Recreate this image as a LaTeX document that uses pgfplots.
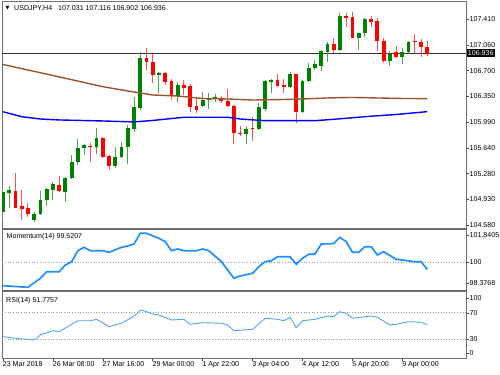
\documentclass[border=0pt]{standalone}
\usepackage{pgfplots}
\pgfplotsset{compat=1.18}
\usepackage{pgfplotstable}
\usepackage{fontspec}
\setmainfont{Liberation Sans}
\newfontfamily\symfont{DejaVu Sans}

\definecolor{cgreen}{RGB}{0,128,0}
\definecolor{cgreenw}{RGB}{80,165,80}
\definecolor{cred}{RGB}{255,0,0}
\definecolor{credw}{RGB}{255,80,80}
\definecolor{mabrown}{RGB}{160,82,45}
\definecolor{mablue}{RGB}{0,0,255}
\definecolor{momblue}{RGB}{30,144,255}
\definecolor{rsiblue}{RGB}{80,165,245}
\definecolor{framec}{RGB}{110,110,110}

% up (green) candles
\pgfplotstableread{
i O H L C
0 104.763 105.092 104.653 105.042
1 105.024 105.124 104.822 105.065
5 104.649 104.767 104.630 104.735
6 104.731 105.051 104.722 104.928
7 104.924 105.093 104.849 105.075
8 105.069 105.171 104.924 105.143
10 105.042 105.237 104.904 105.226
11 105.226 105.546 105.216 105.446
12 105.446 105.762 105.409 105.646
13 105.646 105.690 105.546 105.683
15 105.652 105.913 105.560 105.784
18 105.395 105.660 105.363 105.523
19 105.523 105.729 105.501 105.660
20 105.652 105.958 105.422 105.913
21 105.899 106.338 105.866 106.201
22 106.196 106.965 106.164 106.882
25 106.641 106.686 106.393 106.676
28 106.356 106.553 106.278 106.507
32 106.223 106.415 106.209 106.301
33 106.301 106.393 106.174 106.325
34 106.311 106.384 106.278 106.339
39 105.834 105.944 105.697 105.903
41 105.903 106.264 105.889 106.201
42 106.174 106.569 106.154 106.562
43 106.553 106.583 106.393 106.576
46 106.476 106.690 106.466 106.654
48 106.132 106.569 106.119 106.562
49 106.562 106.806 106.553 106.737
50 106.737 106.851 106.707 106.789
51 106.773 106.988 106.700 106.974
52 106.965 107.102 106.827 107.066
54 106.988 107.492 106.974 107.455
57 107.149 107.222 106.988 107.218
58 107.218 107.432 107.171 107.414
62 106.837 106.974 106.773 106.933
64 106.896 107.020 106.792 106.965
65 106.957 107.112 106.943 107.094
}\upc

% down (red) candles
\pgfplotstableread{
i O H L C
2 105.056 105.295 104.811 104.822
3 104.845 105.065 104.653 104.800
4 104.814 104.882 104.698 104.735
9 105.134 105.262 105.042 105.051
14 105.674 105.707 105.446 105.652
16 105.784 105.793 105.509 105.523
17 105.536 105.546 105.340 105.395
23 106.882 107.012 106.713 106.819
24 106.827 106.933 106.531 106.645
26 106.676 106.686 106.507 106.553
27 106.562 106.586 106.301 106.370
29 106.507 106.576 106.370 106.470
30 106.498 106.521 106.141 106.209
31 106.219 106.325 106.127 106.164
35 106.325 106.356 106.264 106.292
36 106.292 106.448 106.209 106.219
37 106.219 106.233 105.697 105.844
38 105.852 105.944 105.811 105.830
40 105.913 106.072 105.742 105.899
44 106.576 106.654 106.484 106.498
45 106.507 106.590 106.393 106.476
47 106.654 106.665 105.981 106.141
53 107.066 107.149 106.943 106.988
55 107.455 107.492 107.308 107.432
56 107.437 107.506 107.146 107.149
59 107.414 107.459 107.308 107.377
60 107.387 107.424 106.974 107.112
61 107.112 107.157 106.806 106.837
63 106.965 107.043 106.874 106.896
66 107.112 107.204 106.943 107.094
67 107.102 107.139 106.896 107.034
68 107.031 107.116 106.902 106.936
}\dnc

\pgfplotstableread{
i v
0 106.789
4 106.713
8 106.638
12 106.561
16 106.484
20 106.425
24 106.370
28 106.356
32 106.322
36 106.315
40 106.301
44 106.306
48 106.315
52 106.329
56 106.336
60 106.329
64 106.322
68 106.320
}\mabr

\pgfplotstableread{
i v
0 106.139
3 106.072
6 106.040
9 106.027
16 106.013
21 106.000
24 106.020
29 106.064
36 106.064
38 106.040
42 106.017
50 106.017
53 106.036
58 106.072
63 106.102
68 106.141
}\mabl

\pgfplotstableread{
i v
0 98.481
4 98.378
5 98.673
6 98.955
7 99.378
9 99.378
10 99.808
11 100.019
12 100.724
13 100.942
14 100.724
16 100.724
17 100.622
19 100.942
20 101.026
21 101.154
22 101.840
23 101.840
25 101.519
26 101.301
27 100.724
28 100.833
29 100.724
31 100.724
32 100.833
33 100.724
35 100.019
37 98.955
38 99.103
40 99.276
41 99.699
42 100.019
43 100.083
44 100.340
46 100.340
47 99.853
48 100.237
49 100.494
50 100.513
51 101.154
53 101.180
54 101.583
55 101.301
56 100.622
57 100.622
58 100.981
59 100.981
60 100.449
61 100.660
63 100.173
64 100.128
66 100.019
67 100.019
68 99.521
}\mom

\pgfplotstableread{
i v
0 33.6
2 31.2
5 28.6
6 36.2
8 42.7
9 41.2
12 57.9
14 57.9
15 60.0
17 48.8
19 54.0
21 65.0
22 74.2
23 71.6
24 68.1
25 66.6
27 59.0
29 60.0
30 52.4
32 54.9
35 54.0
36 51.4
37 42.7
40 44.8
42 61.6
44 60.0
45 57.9
46 63.1
47 47.3
48 57.9
50 60.0
52 65.0
53 64.0
54 71.6
55 69.1
56 61.6
59 65.0
60 63.1
62 51.4
63 52.4
65 56.4
67 55.5
68 51.8
}\rsi

\newcommand{\lbl}{\fontsize{7.1}{8.5}\selectfont}

\pgfplotsset{
  mtpanel/.style={
    scale only axis, width=464bp, xmin=-0.16, xmax=74.2,
    axis line style={draw=framec, line width=0.9bp},
    tick style={draw=black!75, line width=0.6bp},
    tick align=outside, major tick length=3bp,
    ytick pos=right, yticklabel pos=right,
    yticklabel style={font=\lbl, anchor=west, inner sep=0.5bp},
    xtick=\empty,
    anchor=south west,
  },
  candle/.style={draw=none, mark=none, forget plot,
    error bars/.cd, y dir=plus, y explicit, error mark=none,
    error bar style={#1}},
}

\begin{document}
\begin{tikzpicture}
\useasboundingbox (0,0) rectangle (500bp,375bp);

% ---------------- price panel
\begin{axis}[mtpanel, at={(2bp,146.5bp)}, height=227.5bp,
  ymin=104.536, ymax=107.661,
  ytick={104.58,104.934,105.288,105.641,105.995,106.349,106.703,107.056,107.41},
  yticklabels={104.580,104.930,105.280,105.640,105.990,106.350,106.700,107.060,107.410}]
\addplot[black!80, line width=0.8bp, forget plot] coordinates {(-1,106.936) (80,106.936)};
% wicks
\addplot[candle={line width=1bp, draw=cgreenw, solid}]
  table[x=i, y=L, y error expr=\thisrow{H}-\thisrow{L}] {\upc};
\addplot[candle={line width=1bp, draw=credw, solid}]
  table[x=i, y=L, y error expr=\thisrow{H}-\thisrow{L}] {\dnc};
% bodies
\addplot[candle={line width=3.8bp, draw=cgreen, solid}]
  table[x=i, y=O, y error expr=\thisrow{C}-\thisrow{O}] {\upc};
\addplot[candle={line width=3.8bp, draw=cred, solid}]
  table[x=i, y=C, y error expr=\thisrow{O}-\thisrow{C}] {\dnc};
% moving averages
\addplot[mabrown, line width=1.4bp, mark=none] table[x=i, y=v] {\mabr};
\addplot[mablue, line width=1.4bp, mark=none] table[x=i, y=v] {\mabl};
\end{axis}

% ---------------- momentum panel
\begin{axis}[mtpanel, at={(2bp,84.5bp)}, height=61bp,
  ymin=98.173, ymax=102.083,
  ytick={98.635,100,101.731},
  yticklabels={98.3768,100,101.8405}]
\addplot[gray!80, dotted, line width=0.7bp, forget plot] coordinates {(-1,100) (80,100)};
\addplot[momblue, line width=1.7bp, mark=none] table[x=i, y=v] {\mom};
\end{axis}

% ---------------- RSI panel
\begin{axis}[mtpanel, at={(2bp,17bp)}, height=66.5bp,
  ymin=1.2, ymax=102.3,
  ytick={8.4,29.6,69.1,91.9},
  yticklabels={0,30,70,100},
  xtick={0,8,16,24,32,40,48,56,64},
  xtick pos=left,
  xticklabels={23 Mar 2018,26 Mar 08:00,27 Mar 16:00,29 Mar 00:00,1 Apr 22:00,3 Apr 04:00,4 Apr 12:00,5 Apr 20:00,9 Apr 00:00},
  xticklabel style={font=\lbl, anchor=north west, inner sep=0.5bp, xshift=-0.8bp}]
\addplot[gray!80, dotted, line width=0.7bp, forget plot] coordinates {(-1,70) (80,70)};
\addplot[gray!80, dotted, line width=0.7bp, forget plot] coordinates {(-1,30) (80,30)};
\addplot[rsiblue, line width=0.9bp, mark=none] table[x=i, y=v] {\rsi};
\end{axis}

% ---------------- texts
\node[anchor=west, inner sep=0pt, font=\symfont\fontsize{5}{5}\selectfont] at (5.5bp,366.8bp) {▼};
\node[anchor=west, inner sep=0pt, font=\lbl] at (14bp,367bp) {USDJPY,H4\hspace{6bp}107.031 107.116 106.902 106.936};
\node[anchor=west, inner sep=0pt, font=\lbl] at (6.5bp,138.3bp) {Momentum(14) 99.5207};
\node[anchor=west, inner sep=0pt, font=\lbl] at (6bp,74.3bp) {RSI(14) 51.7757};
\node[anchor=west, fill=black, text=white, font=\lbl, inner xsep=1.2bp, inner ysep=1.4bp] at (466.5bp,322bp) {106.936};
\end{tikzpicture}
\end{document}
